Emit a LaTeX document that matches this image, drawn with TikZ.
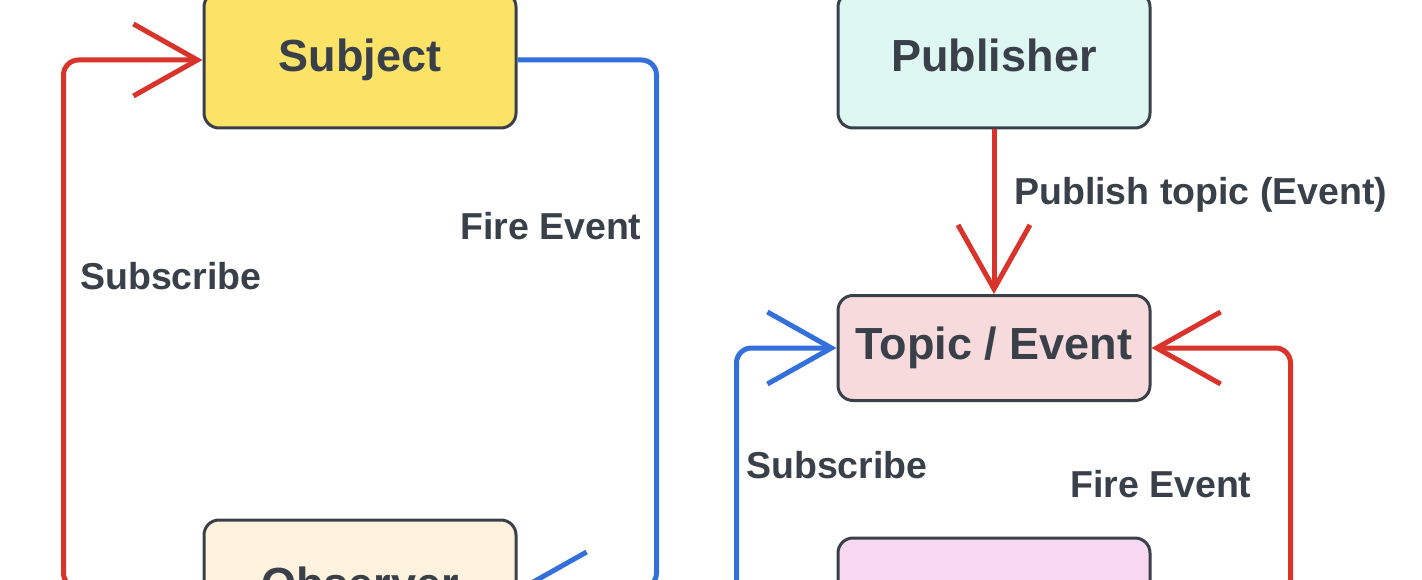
\documentclass[tikz,border=0pt]{standalone}
\usepackage{fontspec}
\setmainfont{Liberation Sans}
\usetikzlibrary{arrows.meta,positioning,calc}
\definecolor{psInk}    {RGB}{ 58, 64, 73}
\definecolor{psRed}    {RGB}{217, 52, 43}
\definecolor{psBlue}   {RGB}{ 52,112,220}
\definecolor{psYellow} {RGB}{251,227,104}
\definecolor{psCream}  {RGB}{252,242,222}
\definecolor{psCyanL}  {RGB}{223,247,243}
\definecolor{psRoseL}  {RGB}{247,218,219}
\definecolor{psPinkL}  {RGB}{247,216,240}

\begin{document}
\begin{tikzpicture}[
  x=1pt,y=-1pt,
  box/.style={rectangle,rounded corners=15pt,draw=psInk,line width=3pt,
              minimum width=312pt,minimum height=136pt,text=psInk,
              font=\fontsize{45}{54}\selectfont\bfseries,
              text height=33pt,text depth=10pt},
  lbl/.style={anchor=base west,text=psInk,inner sep=0pt,
              font=\fontsize{37.5}{45}\selectfont\bfseries},
  conn/.style={line width=5pt,rounded corners=15pt,
               -{Straight Barb[length=64pt,width=72pt]}}
]
\path[use as bounding box,fill=white] (0,0) rectangle (1422,580);
\def\xL{360}
\def\xR{994}
\def\yTop{60}
\def\yMid{348}

% --- Observer pattern
\node[box,fill=psYellow] (subj) at (\xL,\yTop) {Subject};
\node[box,fill=psCream] (obs) at (\xL,588) {Observer};
\draw[conn,psRed] (obs.west) -- ++(-139,0) |- (subj.west);
\draw[conn,psBlue] (subj.east) -- ++(139,0) |- (obs.east);
\node[lbl] (subLblL) at (80,290) {Subscribe};
\node[lbl] (fireLblL) at (460,240) {Fire Event};

% --- Publish / subscribe
\node[box,fill=psCyanL] (pub) at (\xR,\yTop) {Publisher};
\node[box,fill=psRoseL,minimum height=105pt] (topic) at (\xR,\yMid) {Topic / Event};
\node[box,fill=psPinkL] (sub) at (\xR,606) {};
\draw[conn,psRed] (pub.south) -- (topic.north);
\draw[conn,psBlue] (sub.west) -- ++(-100,0) |- (topic.west);
\draw[conn,psRed] (sub.east) -- ++(139,0) |- (topic.east);
\node[lbl] (pubLbl) at (1014,205) {Publish topic (Event)};
\node[lbl] (subLblR) at (746,478) {Subscribe};
\node[lbl] (fireLblR) at (1070,497) {Fire Event};
\end{tikzpicture}
\end{document}
